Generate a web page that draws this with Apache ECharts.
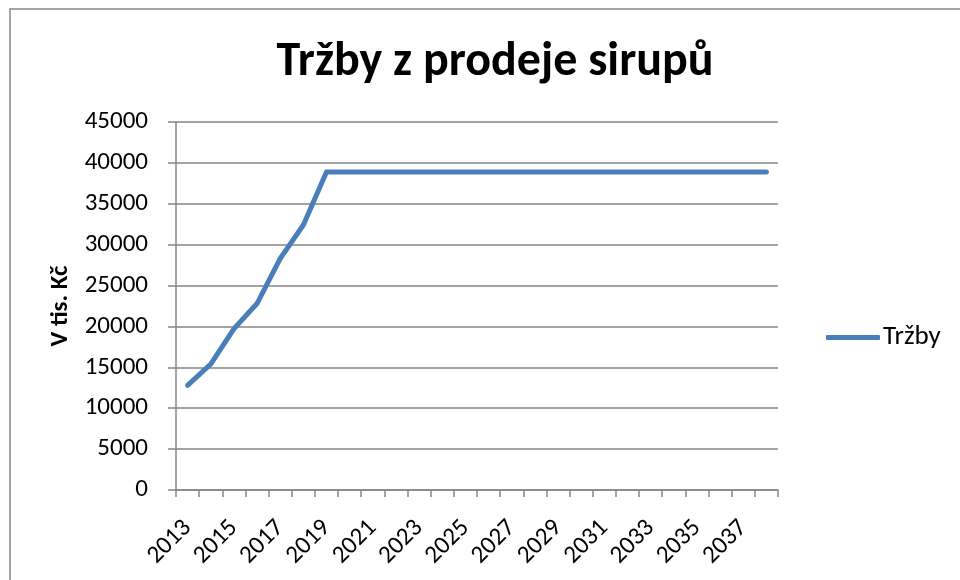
<!DOCTYPE html>
<html>
<head>
<meta charset="utf-8">
<script src="https://cdn.jsdelivr.net/npm/echarts@6/dist/echarts.min.js"></script>
<style>
  html, body { margin: 0; padding: 0; background: #fff; }
  #chart { width: 960px; height: 580px; }
</style>
</head>
<body>
<div id="chart"></div>
<script>
// data
const years = ["2013", "2014", "2015", "2016", "2017", "2018", "2019", "2020", "2021", "2022",
  "2023", "2024", "2025", "2026", "2027", "2028", "2029", "2030", "2031", "2032",
  "2033", "2034", "2035", "2036", "2037", "2038"]
const trzby = [12800, 15400, 19700, 22800, 28300, 32400, 38900, 38900, 38900, 38900,
  38900, 38900, 38900, 38900, 38900, 38900, 38900, 38900, 38900, 38900,
  38900, 38900, 38900, 38900, 38900, 38900]

const fontName = "Carlito, Lato, sans-serif"
const axisGray = "#868686"

let chart = echarts.init(document.getElementById('chart'))

let option = {
    animation: false,
    backgroundColor: "#ffffff",
    textStyle: { fontFamily: fontName },
    //chart area border, only top and left edges are in the picture
    graphic: [
        {
            type: "rect",
            shape: { x: 10, y: 9, width: 1000, height: 700 },
            style: { fill: "none", stroke: axisGray, lineWidth: 1.5 },
            silent: true
        }
    ],
    title: {
        text: "Tržby z prodeje sirupů",
        left: 490,
        textAlign: "center",
        top: 34,
        textStyle: { fontFamily: fontName, fontSize: 48, fontWeight: "bold", color: "#000" }
    },
    legend: {
        data: ["Tržby"],
        left: 826,
        top: 324,
        padding: 0,
        icon: "roundRect",
        itemWidth: 54,
        itemHeight: 5,
        itemGap: 4,
        textStyle: { fontFamily: fontName, fontSize: 27, color: "#000", padding: [0, 0, 0, -2] }
    },
    grid: { left: 176, right: 182, top: 122, bottom: 90 },
    xAxis: {
        type: "category",
        data: years,
        boundaryGap: true,
        axisLine: { lineStyle: { color: axisGray, width: 1.5 } },
        axisTick: { show: true, interval: 0, length: 7, lineStyle: { color: axisGray, width: 1.5 } },
        axisLabel: {
            interval: 1,
            rotate: 45,
            margin: 34,
            color: "#000",
            fontFamily: fontName,
            fontSize: 25
        }
    },
    yAxis: {
        type: "value",
        min: 0,
        max: 45000,
        interval: 5000,
        name: "V tis. Kč",
        nameLocation: "middle",
        nameRotate: 90,
        nameGap: 102,
        nameTextStyle: { fontFamily: fontName, fontSize: 25, fontWeight: "bold", color: "#000" },
        axisLine: { show: true, lineStyle: { color: axisGray, width: 1.5 } },
        axisTick: { show: true, length: 8, lineStyle: { color: axisGray, width: 1.5 } },
        axisLabel: {
            margin: 28,
            color: "#000",
            fontFamily: fontName,
            fontSize: 25,
            formatter: value => String(value)
        },
        splitLine: { show: true, lineStyle: { color: axisGray, width: 1.5 } }
    },
    series: [
        {
            name: "Tržby",
            type: "line",
            data: trzby,
            showSymbol: false,
            symbol: "none",
            color: "#4a7ebb",
            lineStyle: { color: "#4a7ebb", width: 5, cap: "round", join: "miter" }
        }
    ]
}

if (chart) {
    chart.setOption(option)
} else {
    console.error("Echart instance failed to init")
}
</script>
</body>
</html>
